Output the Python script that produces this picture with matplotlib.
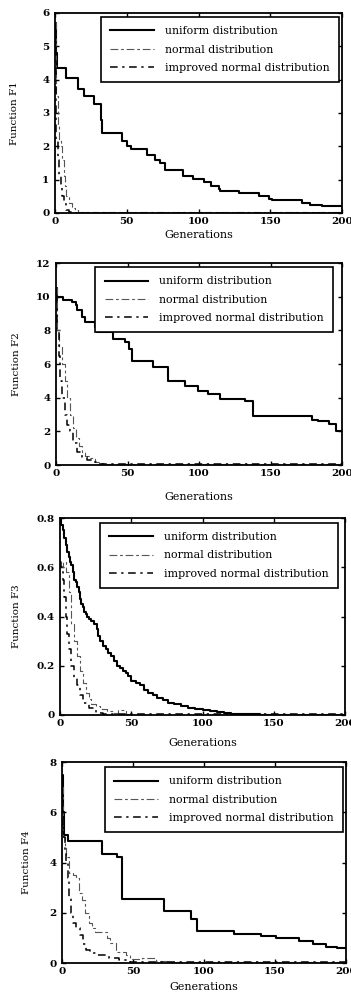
import matplotlib
matplotlib.use("Agg")
import matplotlib.pyplot as plt

# ---- data (generation, best value) ----
# F1
f1_uni_g = [0, 1, 1.5, 8, 16, 20, 27, 32, 33, 47, 50, 53, 64, 70, 73, 77, 89, 96, 104, 109,
            114, 115, 128, 142, 149, 151, 172, 178, 186, 200]
f1_uni_v = [5.7, 4.8, 4.35, 4.05, 3.72, 3.52, 3.28, 2.8, 2.4, 2.15, 2.0, 1.93, 1.75, 1.6, 1.5,
            1.28, 1.12, 1.02, 0.92, 0.82, 0.72, 0.67, 0.6, 0.5, 0.42, 0.38, 0.3, 0.24, 0.22, 0.2]
f1_nor_g = [0, 1, 2, 3, 4, 5, 6, 7, 8, 10, 12, 14, 16, 20, 200]
f1_nor_v = [5.7, 3.5, 2.6, 2.2, 2.0, 1.6, 1.1, 0.8, 0.5, 0.3, 0.15, 0.08, 0.04, 0.02, 0.0]
f1_imp_g = [0, 1, 2, 3, 4, 5, 6, 8, 10, 14, 200]
f1_imp_v = [5.5, 2.2, 1.6, 1.1, 0.8, 0.5, 0.3, 0.1, 0.04, 0.01, 0.0]

# F2
f2_uni_g = [0, 1, 5, 11, 14, 15, 18, 20, 27, 29, 40, 48, 51, 53, 68, 78, 90, 99, 106, 115,
            132, 138, 179, 183, 191, 196, 200]
f2_uni_v = [10.5, 10.0, 9.8, 9.7, 9.5, 9.2, 8.8, 8.5, 8.2, 7.9, 7.5, 7.3, 6.9, 6.2, 5.8, 5.0,
            4.7, 4.4, 4.2, 3.95, 3.8, 2.9, 2.7, 2.6, 2.45, 2.0, 2.0]
f2_nor_g = [0, 1, 2, 4, 6, 8, 10, 12, 14, 16, 18, 20, 23, 27, 31, 35, 200]
f2_nor_v = [10.5, 8.0, 7.0, 6.0, 5.0, 4.0, 3.0, 2.2, 1.6, 1.1, 0.8, 0.55, 0.4, 0.2, 0.1, 0.03, 0.0]
f2_imp_g = [0, 1, 2, 3, 4, 6, 8, 10, 12, 15, 18, 22, 26, 30, 200]
f2_imp_v = [10.0, 8.0, 6.5, 5.0, 4.0, 3.0, 2.4, 2.0, 1.3, 0.8, 0.5, 0.3, 0.15, 0.05, 0.0]

# F3
f3_uni_g = [0, 1, 2, 3, 4, 5, 6, 7, 8, 9, 10, 11, 12, 13, 14, 15, 16, 17, 18, 19, 20, 22, 24,
            26, 27, 28, 30, 32, 34, 36, 38, 40, 42, 44, 46, 48, 50, 53, 56, 59, 62, 65, 68, 72,
            76, 80, 85, 90, 95, 100, 105, 110, 115, 120, 130, 140, 150, 200]
f3_uni_v = [0.8, 0.77, 0.75, 0.72, 0.69, 0.66, 0.64, 0.62, 0.61, 0.58, 0.55, 0.54, 0.52, 0.5,
            0.47, 0.45, 0.44, 0.42, 0.41, 0.4, 0.39, 0.38, 0.37, 0.35, 0.32, 0.3, 0.28, 0.27,
            0.25, 0.24, 0.22, 0.2, 0.19, 0.18, 0.17, 0.16, 0.14, 0.13, 0.12, 0.1, 0.09, 0.08,
            0.07, 0.06, 0.05, 0.045, 0.035, 0.03, 0.025, 0.02, 0.016, 0.012, 0.009, 0.006,
            0.004, 0.002, 0.001, 0.0]
f3_nor_g = [0, 2, 4, 6, 8, 10, 12, 14, 16, 18, 20, 22, 25, 28, 33, 38, 41, 46, 50, 200]
f3_nor_v = [0.6, 0.62, 0.58, 0.5, 0.37, 0.3, 0.24, 0.18, 0.13, 0.09, 0.065, 0.045, 0.035,
            0.025, 0.015, 0.01, 0.02, 0.005, 0.0, 0.0]
f3_imp_g = [0, 1, 2, 3, 4, 5, 6, 8, 10, 12, 14, 16, 20, 25, 30, 200]
f3_imp_v = [0.62, 0.6, 0.55, 0.48, 0.4, 0.33, 0.27, 0.2, 0.15, 0.12, 0.08, 0.05, 0.03, 0.01,
            0.003, 0.0]

# F4
f4_uni_g = [0, 1, 1.6, 4, 28, 39, 42, 72, 91, 95, 121, 140, 151, 167, 177, 186, 194, 200]
f4_uni_v = [7.5, 6.0, 5.1, 4.85, 4.33, 4.2, 2.55, 2.07, 1.75, 1.28, 1.15, 1.08, 1.0, 0.87,
            0.75, 0.65, 0.6, 0.6]
f4_nor_g = [0, 1, 2, 3, 5, 8, 10, 12, 14, 16, 19, 21, 23, 32, 34, 38, 45, 48, 56, 66, 75, 200]
f4_nor_v = [7.0, 5.0, 4.6, 4.2, 3.6, 3.5, 3.4, 2.8, 2.5, 2.0, 1.6, 1.4, 1.25, 1.0, 0.8, 0.45,
            0.3, 0.15, 0.2, 0.08, 0.03, 0.0]
f4_imp_g = [0, 1, 2, 3, 4, 5, 6, 8, 10, 13, 15, 17, 20, 24, 33, 40, 48, 55, 200]
f4_imp_v = [6.5, 5.0, 4.5, 4.0, 3.4, 2.6, 2.0, 1.6, 1.4, 1.1, 0.75, 0.5, 0.4, 0.3, 0.2, 0.1,
            0.05, 0.02, 0.0]

labels = ["uniform distribution", "normal distribution", "improved normal distribution"]
x_ticks = [0, 50, 100, 150, 200]

panels = [
    # name, series, yticks, yticklabels, axes box px (L, R, T, B), legend anchor,
    # ylabel x, xlabel y (axes fraction)
    ("Function F1", (f1_uni_g, f1_uni_v, f1_nor_g, f1_nor_v, f1_imp_g, f1_imp_v),
     [0, 1, 2, 3, 4, 5, 6], ["0", "1", "2", "3", "4", "5", "6"],
     (55, 342, 13, 213), (0.99, 0.98), -0.125, -0.085),
    ("Function F2", (f2_uni_g, f2_uni_v, f2_nor_g, f2_nor_v, f2_imp_g, f2_imp_v),
     [0, 2, 4, 6, 8, 10, 12], ["0", "2", "4", "6", "8", "10", "12"],
     (56, 342, 263, 465), (0.97, 0.98), -0.122, -0.134),
    ("Function F3", (f3_uni_g, f3_uni_v, f3_nor_g, f3_nor_v, f3_imp_g, f3_imp_v),
     [0, 0.2, 0.4, 0.6, 0.8], ["0", "0.2", "0.4", "0.6", "0.8"],
     (60, 345, 518, 715), (0.975, 0.975), -0.137, -0.117),
    ("Function F4", (f4_uni_g, f4_uni_v, f4_nor_g, f4_nor_v, f4_imp_g, f4_imp_v),
     [0, 2, 4, 6, 8], ["0", "2", "4", "6", "8"],
     (62, 346, 762, 963), (0.99, 0.975), -0.109, -0.095),
]

W, H = 351, 997
fig = plt.figure(figsize=(W / 100, H / 100), dpi=100)

for name, s, yt, ytl, box, lg_anchor, ylab_x, xlab_y in panels:
    L, R, T, B = box
    ax = fig.add_axes([L / W, 1 - B / H, (R - L) / W, (B - T) / H])
    ug, uv, ng, nv, ig, iv = s
    ax.step(ug, uv, where="post", color="black", lw=1.5, label=labels[0])
    ax.step(ng, nv, where="post", color="#555555", lw=0.8, dashes=(7, 2.5, 2.5, 2.5),
            label=labels[1])
    ax.step(ig, iv, where="post", color="black", lw=1.1, dashes=(5, 3, 1.5, 3),
            label=labels[2])

    ax.set_xlim(0, 200)
    ax.set_ylim(yt[0], yt[-1])
    ax.set_xticks(x_ticks)
    ax.set_xticklabels([str(t) for t in x_ticks])
    ax.set_yticks(yt)
    ax.set_yticklabels(ytl)
    ax.tick_params(direction="in", top=True, right=True, length=3, width=1)
    ax.tick_params(axis="x", pad=3)
    ax.tick_params(axis="y", pad=4)
    for lab in ax.get_xticklabels() + ax.get_yticklabels():
        lab.set_family("DejaVu Serif")
        lab.set_weight("bold")
        lab.set_fontsize(7.5)
    for sp in ax.spines.values():
        sp.set_linewidth(1.3)

    ax.set_ylabel(name, family="DejaVu Serif", fontsize=7.5)
    ax.yaxis.set_label_coords(ylab_x, 0.5)
    ax.set_xlabel("Generations", family="DejaVu Serif", fontsize=8)
    ax.xaxis.set_label_coords(0.5, xlab_y)

    leg = ax.legend(loc="upper right", bbox_to_anchor=lg_anchor, frameon=True,
                    fancybox=False, edgecolor="black", framealpha=1,
                    prop={"family": "DejaVu Serif", "size": 7.9},
                    handlelength=4.0, handletextpad=1.0, labelspacing=0.75,
                    borderpad=0.85, borderaxespad=0)
    leg.get_frame().set_linewidth(1.2)

fig.savefig("out.png", dpi=100)
